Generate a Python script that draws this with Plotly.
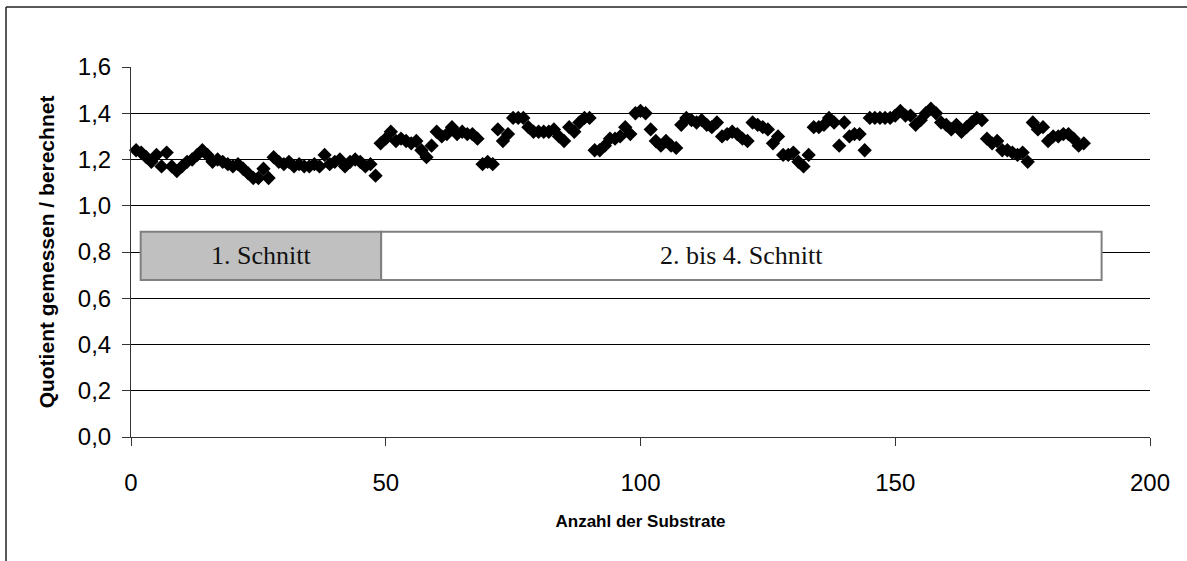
import plotly.graph_objects as go

# Quotient gemessen / berechnet je Substrat (Substrat-Nr. 1..187)
substrate = list(range(1, 188))
quotient = [
    1.24, 1.23, 1.21, 1.19, 1.22, 1.17, 1.23, 1.17, 1.15, 1.17,
    1.19, 1.20, 1.22, 1.24, 1.22, 1.19, 1.20, 1.19, 1.18, 1.17,
    1.18, 1.16, 1.14, 1.12, 1.12, 1.16, 1.12, 1.21, 1.19, 1.18,
    1.19, 1.17, 1.18, 1.17, 1.17, 1.18, 1.17, 1.22, 1.18, 1.19,
    1.20, 1.17, 1.19, 1.20, 1.19, 1.17, 1.18, 1.13, 1.27, 1.29,
    1.32, 1.28, 1.29, 1.28, 1.27, 1.28, 1.24, 1.21, 1.26, 1.32,
    1.30, 1.31, 1.34, 1.31, 1.32, 1.31, 1.31, 1.29, 1.18, 1.19,
    1.18, 1.33, 1.28, 1.31, 1.38, 1.38, 1.38, 1.34, 1.32, 1.32,
    1.32, 1.32, 1.33, 1.30, 1.28, 1.34, 1.32, 1.36, 1.38, 1.38,
    1.24, 1.24, 1.26, 1.29, 1.29, 1.30, 1.34, 1.31, 1.40, 1.41,
    1.40, 1.33, 1.28, 1.26, 1.28, 1.26, 1.25, 1.35, 1.38, 1.37,
    1.36, 1.37, 1.35, 1.34, 1.36, 1.30, 1.31, 1.32, 1.31, 1.29,
    1.28, 1.36, 1.35, 1.34, 1.33, 1.27, 1.30, 1.22, 1.22, 1.23,
    1.19, 1.17, 1.22, 1.34, 1.34, 1.35, 1.38, 1.36, 1.26, 1.36,
    1.30, 1.31, 1.31, 1.24, 1.38, 1.38, 1.38, 1.38, 1.38, 1.39,
    1.41, 1.39, 1.39, 1.35, 1.37, 1.40, 1.42, 1.40, 1.36, 1.35,
    1.33, 1.35, 1.32, 1.34, 1.36, 1.38, 1.37, 1.29, 1.27, 1.28,
    1.24, 1.24, 1.23, 1.22, 1.23, 1.19, 1.36, 1.33, 1.34, 1.28,
    1.30, 1.30, 1.31, 1.31, 1.29, 1.26, 1.27,
]

# Abschnitte (Substrat-Bereich) und Beschriftung
abschnitte = ["1. Schnitt", "2. bis 4. Schnitt"]
abschnitt_von = [1.9, 49.1]
abschnitt_bis = [49.1, 190.5]
abschnitt_farbe = ["#c0c0c0", "#ffffff"]
band_unten, band_oben = 0.679, 0.888

x_ticks = [0, 50, 100, 150, 200]
y_ticks = [0.0, 0.2, 0.4, 0.6, 0.8, 1.0, 1.2, 1.4, 1.6]

W, H = 1187, 561
ML, MR, MT, MB = 131, 37, 67, 124
PW, PH = W - ML - MR, H - MT - MB


def px(xp):
    return (xp - ML) / PW


def py(yp):
    return (H - MB - yp) / PH


fig = go.Figure()
fig.add_trace(go.Scatter(
    x=substrate, y=quotient, mode="markers",
    marker=dict(symbol="diamond", size=11, color="black", line=dict(width=0)),
    showlegend=False, cliponaxis=False,
))

shapes = []
annotations = []
for name, x0, x1, col in zip(abschnitte, abschnitt_von, abschnitt_bis, abschnitt_farbe):
    shapes.append(dict(type="rect", xref="x", yref="y", x0=x0, x1=x1,
                       y0=band_unten, y1=band_oben, fillcolor=col,
                       line=dict(color="#808080", width=2), layer="above"))
    annotations.append(dict(x=(x0 + x1) / 2, y=(band_unten + band_oben) / 2,
                            xref="x", yref="y", text=name, showarrow=False,
                            font=dict(family="Liberation Serif", size=26, color="#111111")))

# Rahmen oben und links
shapes.append(dict(type="line", xref="paper", yref="paper",
                   x0=px(6), x1=px(W + 5), y0=py(7), y1=py(7),
                   line=dict(color="#222222", width=1.5)))
shapes.append(dict(type="line", xref="paper", yref="paper",
                   x0=px(6), x1=px(6), y0=py(7), y1=py(H + 5),
                   line=dict(color="#222222", width=1.5)))

fig.update_layout(
    width=W, height=H,
    margin=dict(l=ML, r=MR, t=MT, b=MB, autoexpand=False),
    paper_bgcolor="white", plot_bgcolor="white",
    separators=",.",
    font=dict(family="Liberation Sans", color="black"),
    shapes=shapes, annotations=annotations,
    xaxis=dict(
        range=[0, 200], tickvals=x_ticks, ticks="outside", ticklen=8,
        tickcolor="#333333", showline=True, linecolor="#333333", linewidth=1,
        showgrid=False, zeroline=False, tickfont=dict(size=24),
        ticklabelstandoff=16,
        title=dict(text="<b>Anzahl der Substrate</b>", font=dict(size=17), standoff=20),
    ),
    yaxis=dict(
        range=[0, 1.6], tickvals=y_ticks, tickformat=".1f", ticks="outside",
        ticklen=8, tickcolor="#333333", showline=True, linecolor="#333333",
        linewidth=1, showgrid=True, gridcolor="black", gridwidth=1,
        zeroline=False, tickfont=dict(size=24), ticklabelstandoff=6,
        title=dict(text="<b>Quotient gemessen / berechnet</b>", font=dict(size=21), standoff=17),
    ),
)

fig.write_html("out.html")
